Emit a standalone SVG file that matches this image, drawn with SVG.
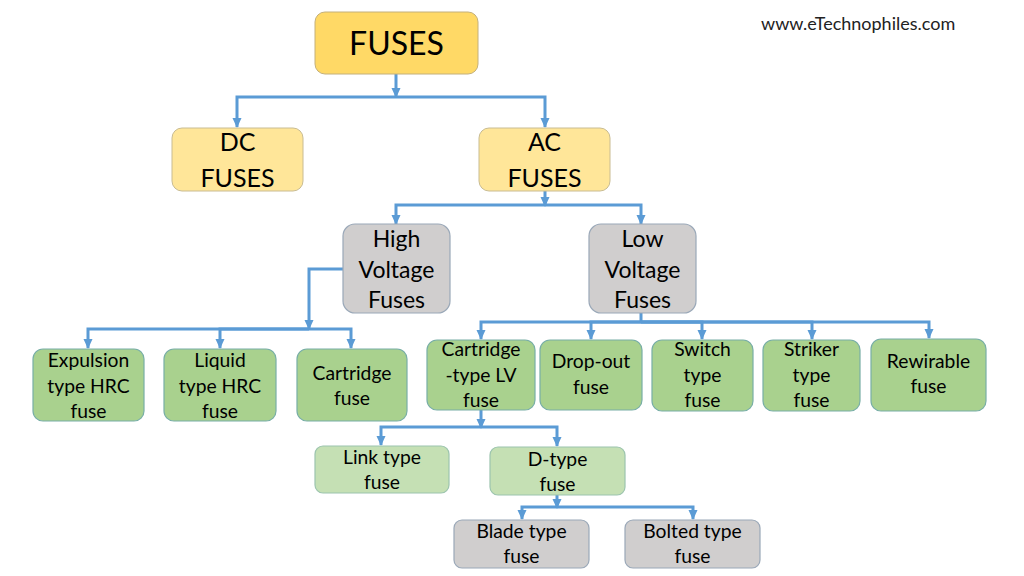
<svg xmlns="http://www.w3.org/2000/svg" width="1024" height="576" viewBox="0 0 1024 576">
<defs>
<marker id="arr" markerUnits="userSpaceOnUse" markerWidth="10" markerHeight="10" viewBox="0 0 10 10" refX="9" refY="5" orient="auto">
<path d="M0,0.5 L10,5 L0,9.5 z" fill="#5B9BD5"/>
</marker>
<style>
.t{font-family:Lato,"Liberation Sans",sans-serif;fill:#000;text-anchor:middle}
.s{font-size:19.3px}
.m{font-size:23px}
.l{font-size:25px}
.c{fill:none;stroke:#5B9BD5;stroke-width:3}
.a{marker-end:url(#arr)}
.y1{fill:#FFD966;stroke:#C4B07A;stroke-width:1}
.y2{fill:#FFE699;stroke:#C9BC92;stroke-width:1}
.g{fill:#D0CECE;stroke:#9AA8B8;stroke-width:1.2}
.gr{fill:#A9D18E;stroke:#78AEA6;stroke-width:1.2}
.lg{fill:#C5E0B4;stroke:#9CC4AE;stroke-width:1.2}
</style>
</defs>
<rect width="1024" height="576" fill="#fff"/>
<text x="761" y="30" style="font-family:Lato,'Liberation Sans',sans-serif;font-size:18px;fill:#222">www.eTechnophiles.com</text>
<g id="connectors">
<path class="c a" d="M396,74 V97"/>
<path class="c a" d="M396,97 H237 V127"/>
<path class="c a" d="M396,97 H545 V127"/>
<path class="c a" d="M545,191 V206"/>
<path class="c a" d="M545,205 H396 V224"/>
<path class="c a" d="M545,205 H641 V224"/>
<path class="c a" d="M343,269 H309 V329"/>
<path class="c a" d="M309,329 H88 V348"/>
<path class="c a" d="M309,329 H220 V348"/>
<path class="c a" d="M309,329 H351 V348"/>
<path class="c" d="M641,313 V322"/>
<path class="c a" d="M641,322 H481 V339"/>
<path class="c a" d="M641,322 H591 V339"/>
<path class="c a" d="M641,322 H702 V339"/>
<path class="c a" d="M641,322 H812 V339"/>
<path class="c a" d="M641,322 H929 V338"/>
<path class="c a" d="M481,410 V428"/>
<path class="c a" d="M481,427 H381 V445"/>
<path class="c a" d="M481,427 H557 V446"/>
<path class="c a" d="M557,495 V508"/>
<path class="c a" d="M557,507 H522 V519"/>
<path class="c a" d="M557,507 H693 V519"/>
</g>
<g id="fuses"><rect class="y1" x="315" y="12" width="163" height="62" rx="10"/><text class="t" x="396.5" y="55" style="font-size:32px">FUSES</text></g>
<g id="dc"><rect class="y2" x="172" y="128" width="131" height="63" rx="10"/><text class="t l" x="237.5" y="151">DC</text><text class="t l" x="237.5" y="187">FUSES</text></g>
<g id="ac"><rect class="y2" x="479" y="128" width="131" height="63" rx="10"/><text class="t l" x="544.5" y="151">AC</text><text class="t l" x="544.5" y="187">FUSES</text></g>
<g id="hv"><rect class="g" x="343" y="224" width="107" height="89" rx="12"/><text class="t m" x="396.5" y="247">High</text><text class="t m" x="396.5" y="278">Voltage</text><text class="t m" x="396.5" y="308">Fuses</text></g>
<g id="lv"><rect class="g" x="589" y="224" width="107" height="89" rx="12"/><text class="t m" x="642.5" y="247">Low</text><text class="t m" x="642.5" y="278">Voltage</text><text class="t m" x="642.5" y="308">Fuses</text></g>
<g id="expulsion"><rect class="gr" x="33" y="349" width="111" height="72" rx="10"/><text class="t s" x="88.5" y="367">Expulsion</text><text class="t s" x="88.5" y="393">type HRC</text><text class="t s" x="88.5" y="418">fuse</text></g>
<g id="liquid"><rect class="gr" x="164" y="349" width="112" height="72" rx="10"/><text class="t s" x="220" y="367">Liquid</text><text class="t s" x="220" y="393">type HRC</text><text class="t s" x="220" y="418">fuse</text></g>
<g id="cartridge"><rect class="gr" x="297" y="349" width="110" height="72" rx="10"/><text class="t s" x="352" y="380">Cartridge</text><text class="t s" x="352" y="405">fuse</text></g>
<g id="cartridge-lv"><rect class="gr" x="427" y="340" width="108" height="70" rx="10"/><text class="t s" x="481" y="356">Cartridge</text><text class="t s" x="481" y="382">-type LV</text><text class="t s" x="481" y="407">fuse</text></g>
<g id="dropout"><rect class="gr" x="540" y="340" width="102" height="70" rx="10"/><text class="t s" x="591" y="368">Drop-out</text><text class="t s" x="591" y="394">fuse</text></g>
<g id="switch"><rect class="gr" x="652" y="340" width="101" height="71" rx="10"/><text class="t s" x="702.5" y="356">Switch</text><text class="t s" x="702.5" y="382">type</text><text class="t s" x="702.5" y="407">fuse</text></g>
<g id="striker"><rect class="gr" x="763" y="340" width="97" height="71" rx="10"/><text class="t s" x="811.5" y="356">Striker</text><text class="t s" x="811.5" y="382">type</text><text class="t s" x="811.5" y="407">fuse</text></g>
<g id="rewirable"><rect class="gr" x="871" y="339" width="115" height="72" rx="10"/><text class="t s" x="928.5" y="368">Rewirable</text><text class="t s" x="928.5" y="393">fuse</text></g>
<g id="link"><rect class="lg" x="315" y="446" width="134" height="47" rx="8"/><text class="t s" x="382" y="464">Link type</text><text class="t s" x="382" y="489">fuse</text></g>
<g id="dtype"><rect class="lg" x="490" y="447" width="135" height="48" rx="8"/><text class="t s" x="557.5" y="466">D-type</text><text class="t s" x="557.5" y="491">fuse</text></g>
<g id="blade"><rect class="g" x="454" y="520" width="135" height="48" rx="8"/><text class="t s" x="521.5" y="538">Blade type</text><text class="t s" x="521.5" y="563">fuse</text></g>
<g id="bolted"><rect class="g" x="625" y="520" width="135" height="48" rx="8"/><text class="t s" x="692.5" y="538">Bolted type</text><text class="t s" x="692.5" y="563">fuse</text></g>
</svg>
